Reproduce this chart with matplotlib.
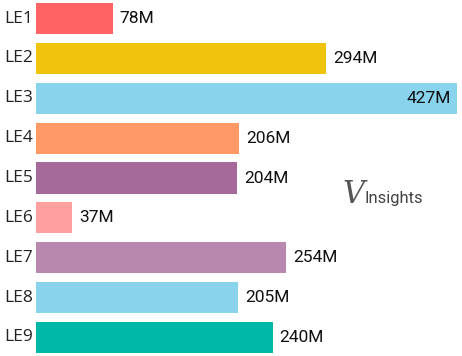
import numpy as np
import matplotlib
matplotlib.use("Agg")
from matplotlib import pyplot as plt

# property sales value by district (millions)
districts = ["LE1", "LE2", "LE3", "LE4", "LE5", "LE6", "LE7", "LE8", "LE9"]
values = [78, 294, 427, 206, 204, 37, 254, 205, 240]
colors = ["#FF6464", "#F0C40C", "#89D3EC", "#FF9966", "#A66A9A",
          "#FFA0A0", "#B888AE", "#89D3EC", "#00B8A8"]

fig = plt.figure(figsize=(4.62, 3.56), dpi=100)
ax = fig.add_axes([36 / 462, 0, 426 / 462, 1])

y = np.arange(len(districts))
ax.barh(y, values, height=0.78, color=colors)
ax.set_xlim(0, 432)
ax.set_ylim(len(districts) - 1 + 0.464, -0.464)

vmax = max(values)
for yi, v in zip(y, values):
    if v == vmax:
        ax.text(v - 6, yi, f"{v}M", ha="right", va="center",
                fontsize=12.5, family="Roboto", color="#111111")
    else:
        ax.text(v + 7, yi, f"{v}M", ha="left", va="center",
                fontsize=12.5, family="Roboto", color="#111111")
    ax.text(-32, yi, districts[yi], ha="left", va="center",
            fontsize=12.5, family="Open Sans", color="#222222")

for s in ax.spines.values():
    s.set_visible(False)
ax.set_xticks([])
ax.set_yticks([])

# logo
fig.text(342 / 462, 1 - 195 / 356, "V", fontsize=22, family="DejaVu Serif",
         style="italic", color="#555555", va="center")
fig.text(364 / 462, 1 - 199 / 356, "Insights", fontsize=12, family="Roboto",
         color="#444444", va="center")

fig.savefig("out.png", dpi=100)
